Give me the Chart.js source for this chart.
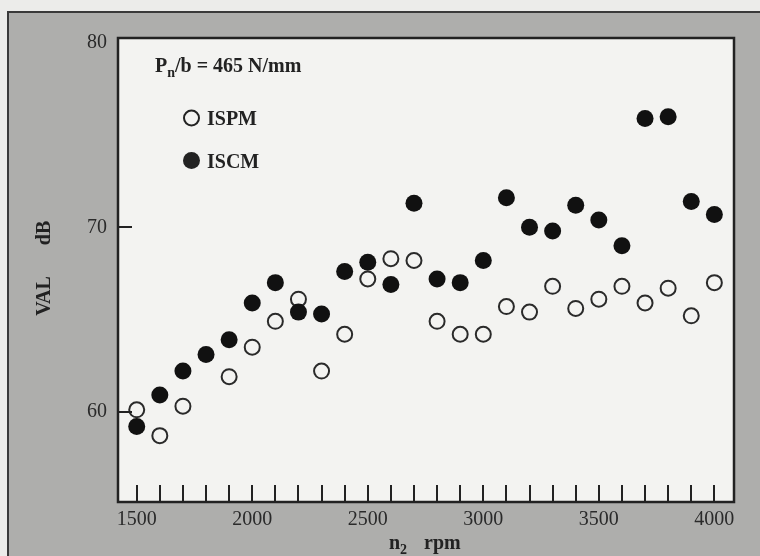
<!DOCTYPE html>
<html lang="en">

<head>
    <meta charset="UTF-8">
    <meta name="viewport" content="width=device-width, initial-scale=1.0">
    <title>VAL vs speed</title>
    <script src="https://cdn.jsdelivr.net/npm/chart.js"></script>
    <style>
        body { margin: 0; background: #ececea; }
        #valChart { display: block; }
    </style>
</head>

<body>
    <canvas id="valChart" width="760" height="556"></canvas>

    <script>
        // speed n2 (rpm)
        const rpm = [1500, 1600, 1700, 1800, 1900, 2000, 2100, 2200, 2300, 2400, 2500, 2600, 2700,
                     2800, 2900, 3000, 3100, 3200, 3300, 3400, 3500, 3600, 3700, 3800, 3900, 4000];
        // VAL dB, open circles (no reading at 1800)
        const ispm = [60.1, 58.7, 60.3, null, 61.9, 63.5, 64.9, 66.1, 62.2, 64.2, 67.2, 68.3, 68.2,
                      64.9, 64.2, 64.2, 65.7, 65.4, 66.8, 65.6, 66.1, 66.8, 65.9, 66.7, 65.2, 67.0];
        // VAL dB, filled circles
        const iscm = [59.2, 60.9, 62.2, 63.1, 63.9, 65.9, 67.0, 65.4, 65.3, 67.6, 68.1, 66.9, 71.3,
                      67.2, 67.0, 68.2, 71.6, 70.0, 69.8, 71.2, 70.4, 69.0, 75.9, 76.0, 71.4, 70.7];
        const xTickLabels = [1500, 2000, 2500, 3000, 3500, 4000];
        const yTickLabels = [60, 70, 80];

        const serif = '"Liberation Serif", "Times New Roman", serif';
        const ink = '#222';

        // gray panel, plot face, frame, inward ticks and the text
        const paperPlugin = {
            id: 'paper',
            beforeDraw(chart) {
                const ctx = chart.ctx;
                const a = chart.chartArea;
                ctx.save();
                ctx.fillStyle = '#ececea';
                ctx.fillRect(0, 0, chart.width, chart.height);
                ctx.fillStyle = '#aeaeac';
                ctx.fillRect(7, 11, chart.width - 7, chart.height - 11);
                ctx.strokeStyle = '#3a3a3a';
                ctx.lineWidth = 2;
                ctx.beginPath();
                ctx.moveTo(8, chart.height);
                ctx.lineTo(8, 12);
                ctx.lineTo(chart.width, 12);
                ctx.stroke();
                ctx.fillStyle = '#f3f3f1';
                ctx.fillRect(a.left, a.top, a.right - a.left, a.bottom - a.top);
                ctx.restore();
            },
            afterDraw(chart) {
                const ctx = chart.ctx;
                const a = chart.chartArea;
                const xs = chart.scales.x;
                const ys = chart.scales.y;
                ctx.save();
                ctx.strokeStyle = ink;
                ctx.lineWidth = 2;
                // minor ticks every 100 rpm, pointing up into the plot
                ctx.beginPath();
                rpm.forEach(v => {
                    const px = Math.round(xs.getPixelForValue(v));
                    ctx.moveTo(px, a.bottom);
                    ctx.lineTo(px, a.bottom - 17);
                });
                yTickLabels.forEach(v => {
                    const py = Math.round(ys.getPixelForValue(v));
                    if (py - a.top < 10) return; // hidden under the top frame
                    ctx.moveTo(a.left, py);
                    ctx.lineTo(a.left + 14, py);
                });
                ctx.stroke();
                ctx.lineWidth = 2.5;
                ctx.strokeRect(a.left, a.top, a.right - a.left, a.bottom - a.top);

                ctx.fillStyle = ink;
                ctx.textBaseline = 'alphabetic';
                ctx.textAlign = 'left';
                // load note
                ctx.font = 'bold 20px ' + serif;
                ctx.fillText('P', 155, 72);
                let w = ctx.measureText('P').width;
                ctx.font = 'bold 14px ' + serif;
                ctx.fillText('n', 155 + w, 77);
                w += ctx.measureText('n').width;
                ctx.font = 'bold 20px ' + serif;
                ctx.fillText('/b = 465 N/mm', 155 + w, 72);

                // legend
                ctx.beginPath();
                ctx.arc(191.5, 118, 7.5, 0, Math.PI * 2);
                ctx.lineWidth = 2;
                ctx.stroke();
                ctx.beginPath();
                ctx.arc(191.5, 160.5, 8.5, 0, Math.PI * 2);
                ctx.fill();
                ctx.fillText('ISPM', 207, 125);
                ctx.fillText('ISCM', 207, 168);

                // x title
                ctx.fillText('n', 389, 549);
                const nw = ctx.measureText('n').width;
                ctx.font = 'bold 14px ' + serif;
                ctx.fillText('2', 389 + nw, 554);
                ctx.font = 'bold 20px ' + serif;
                ctx.fillText('rpm', 424, 549);

                // y title
                ctx.translate(50, 270);
                ctx.rotate(-Math.PI / 2);
                ctx.textAlign = 'center';
                ctx.fillText('VAL', -26, 0);
                ctx.fillText('dB', 37, 0);
                ctx.restore();
            }
        };

        const ctx = document.getElementById('valChart').getContext('2d');
        const valChart = new Chart(ctx, {
            type: 'scatter',
            data: {
                datasets: [
                    {
                        label: 'ISCM',
                        data: rpm.map((x, i) => ({ x, y: iscm[i] })),
                        pointRadius: 8.5,
                        pointBackgroundColor: '#111',
                        pointBorderColor: '#111',
                        pointBorderWidth: 0
                    },
                    {
                        label: 'ISPM',
                        data: rpm.map((x, i) => ({ x, y: ispm[i] })).filter(p => p.y !== null),
                        pointRadius: 7.5,
                        pointBackgroundColor: 'rgba(0,0,0,0)',
                        pointBorderColor: '#2a2a2a',
                        pointBorderWidth: 2
                    }
                ]
            },
            options: {
                responsive: false,
                animation: false,
                layout: { padding: { left: 0, top: 38, right: 26, bottom: 0 } },
                plugins: {
                    legend: { display: false },
                    tooltip: { enabled: false }
                },
                scales: {
                    x: {
                        type: 'linear',
                        min: 1419,
                        max: 4085,
                        grid: { display: false },
                        border: { display: false },
                        afterBuildTicks: scale => { scale.ticks = xTickLabels.map(v => ({ value: v })); },
                        afterFit: scale => { scale.height = 54; },
                        ticks: {
                            autoSkip: false,
                            maxRotation: 0,
                            padding: -2,
                            color: '#2a2a2a',
                            font: { family: serif, size: 20 },
                            callback: v => String(v)
                        }
                    },
                    y: {
                        min: 55.1,
                        max: 80.27,
                        grid: { display: false },
                        border: { display: false },
                        afterBuildTicks: scale => { scale.ticks = yTickLabels.map(v => ({ value: v })); },
                        afterFit: scale => { scale.width = 118; },
                        ticks: {
                            padding: 3,
                            color: '#2a2a2a',
                            font: { family: serif, size: 20 },
                            callback: v => String(v)
                        }
                    }
                }
            },
            plugins: [paperPlugin]
        });
    </script>
</body>

</html>
